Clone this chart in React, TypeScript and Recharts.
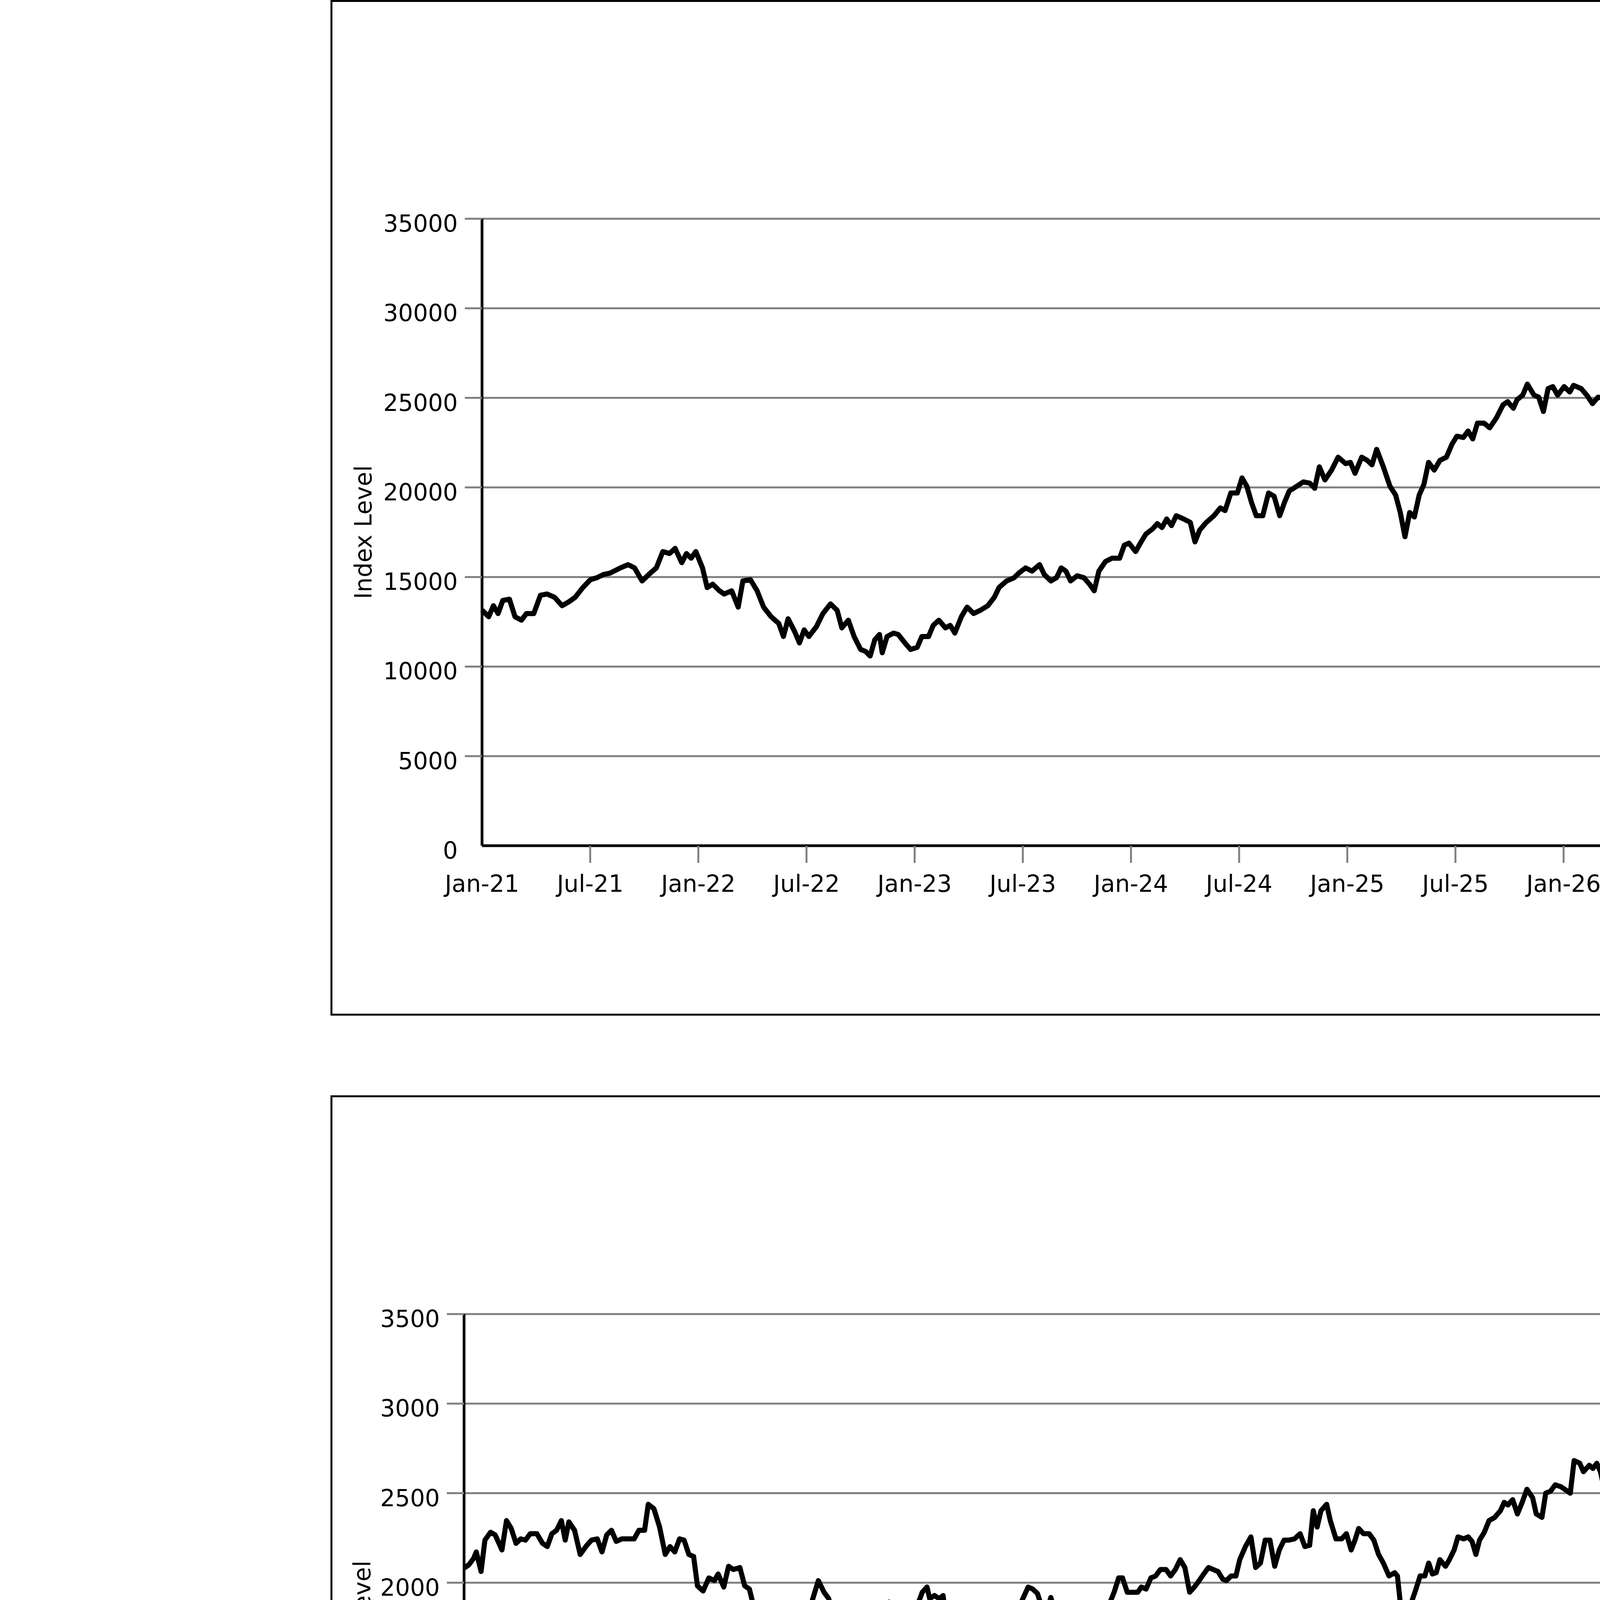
import { CartesianGrid, Line, LineChart, XAxis, YAxis } from "recharts"

// months since Jan-2021 and index level
const monthsA = [
  0, 0.37, 0.63, 0.89, 1.15, 1.52, 1.83, 2.19, 2.46, 2.87, 3.24, 3.61, 4.02, 4.44, 4.81, 5.17, 5.59, 6.01,
  6.37, 6.74, 7.11, 7.68, 8.1, 8.46, 8.88, 9.25, 9.67, 10.03, 10.4, 10.71, 11.08, 11.34, 11.6, 11.86, 12.23,
  12.49, 12.8, 13.17, 13.43, 13.85, 14.21, 14.47, 14.89, 15.26, 15.62, 16.04, 16.46, 16.72, 16.98, 17.35,
  17.61, 17.87, 18.13, 18.55, 18.91, 19.33, 19.7, 19.96, 20.32, 20.64, 21.0, 21.27, 21.53, 21.79, 22.05,
  22.2, 22.47, 22.83, 23.09, 23.46, 23.77, 24.14, 24.4, 24.77, 25.03, 25.34, 25.71, 25.97, 26.23, 26.59,
  26.91, 27.27, 27.64, 28.06, 28.42, 28.68, 29.1, 29.52, 29.78, 30.15, 30.51, 30.93, 31.19, 31.56, 31.87,
  32.13, 32.39, 32.65, 33.02, 33.39, 33.7, 33.96, 34.22, 34.59, 34.95, 35.37, 35.63, 35.89, 36.26, 36.52,
  36.83, 37.2, 37.46, 37.72, 37.98, 38.25, 38.51, 38.92, 39.29, 39.55, 39.81, 40.18, 40.6, 40.96, 41.22,
  41.54, 41.9, 42.16, 42.43, 42.69, 42.95, 43.31, 43.63, 43.94, 44.25, 44.51, 44.78, 45.19, 45.56, 45.92,
  46.19, 46.45, 46.76, 47.13, 47.49, 47.91, 48.17, 48.43, 48.8, 49.11, 49.37, 49.63, 50.0, 50.37, 50.68,
  50.94, 51.2, 51.46, 51.72, 51.99, 52.25, 52.51, 52.82, 53.14, 53.5, 53.81, 54.08, 54.44, 54.7, 54.96,
  55.22, 55.59, 55.9, 56.27, 56.64, 56.9, 57.21, 57.42, 57.73, 57.99, 58.36, 58.62, 58.88, 59.14, 59.4,
  59.67, 60.03, 60.34, 60.55, 60.97, 61.29, 61.6, 61.91, 62.28, 62.54, 62.8, 63.06, 63.32, 63.58, 64.0,
  64.37, 64.63, 64.89, 65.15, 65.36, 65.68, 65.99, 66.3, 66.61, 66.93, 67.19, 67.5, 67.87,
]
const levelA = [
  13150, 12780, 13400, 12960, 13690, 13760, 12780, 12590, 12960, 12960, 13980, 14050, 13870, 13400, 13610,
  13870, 14410, 14850, 14960, 15140, 15220, 15510, 15690, 15510, 14780, 15140, 15510, 16420, 16310, 16600,
  15800, 16310, 16050, 16420, 15510, 14410, 14600, 14230, 14050, 14230, 13320, 14780, 14850, 14230, 13320,
  12780, 12410, 11680, 12670, 11940, 11320, 12050, 11680, 12230, 12960, 13500, 13140, 12160, 12590, 11680,
  10960, 10850, 10590, 11500, 11790, 10770, 11680, 11870, 11790, 11320, 10960, 11070, 11680, 11680, 12300,
  12590, 12160, 12300, 11870, 12780, 13320, 12960, 13140, 13400, 13870, 14410, 14780, 14960, 15220, 15510,
  15330, 15690, 15140, 14780, 14960, 15510, 15330, 14780, 15070, 14960, 14600, 14230, 15330, 15870, 16050,
  16050, 16780, 16890, 16420, 16890, 17400, 17690, 17980, 17760, 18240, 17870, 18420, 18240, 18050, 16960,
  17620, 18050, 18420, 18860, 18710, 19690, 19690, 20530, 20060, 19150, 18420, 18420, 19690, 19510, 18420,
  19150, 19800, 20060, 20310, 20240, 19950, 21150, 20420, 20970, 21690, 21330, 21400, 20790, 21690, 21510,
  21260, 22130, 21150, 20060, 19580, 18600, 17250, 18600, 18350, 19580, 20170, 21400, 20970, 21510, 21690,
  22420, 22860, 22790, 23150, 22710, 23590, 23590, 23330, 23880, 24610, 24790, 24420, 24900, 25150, 25770,
  25150, 25040, 24240, 25520, 25630, 25150, 25630, 25330, 25700, 25520, 25150, 24680, 25040, 24970, 24240,
  23590, 23150, 24240, 26610, 27520, 29270, 29160, 29520, 30250, 28970, 30360, 29160, 29700, 28250, 28320,
  29880, 30070, 29270,
]

// months since Jan-2021 and index level
const monthsB = [
  0, 0.26, 0.52, 0.67, 0.93, 1.14, 1.45, 1.7, 2.07, 2.32, 2.58, 2.84, 3.1, 3.36, 3.62, 3.98, 4.29, 4.55,
  4.8, 5.06, 5.32, 5.53, 5.73, 6.04, 6.35, 6.71, 6.97, 7.28, 7.54, 7.8, 8.06, 8.32, 8.63, 8.94, 9.3, 9.56,
  9.87, 10.07, 10.38, 10.69, 11.0, 11.26, 11.52, 11.78, 12.03, 12.29, 12.55, 12.76, 13.07, 13.38, 13.69,
  13.89, 14.2, 14.46, 14.72, 15.08, 15.34, 15.6, 15.86, 16.11, 16.37, 16.63, 16.89, 17.15, 17.41, 17.61,
  17.82, 18.13, 18.44, 18.75, 19.01, 19.37, 19.68, 19.94, 20.14, 20.4, 20.66, 20.92, 21.18, 21.43, 21.69,
  21.95, 22.21, 22.47, 22.73, 22.98, 23.24, 23.4, 23.66, 24.02, 24.28, 24.53, 24.79, 25.05, 25.31, 25.46,
  25.72, 25.98, 26.19, 26.39, 26.6, 26.91, 27.12, 27.37, 27.63, 27.89, 28.15, 28.41, 28.67, 28.92, 29.18,
  29.34, 29.6, 29.8, 30.06, 30.32, 30.58, 30.84, 31.09, 31.35, 31.61, 31.87, 32.08, 32.28, 32.54, 32.8,
  33.11, 33.32, 33.57, 33.83, 34.09, 34.24, 34.45, 34.66, 34.97, 35.28, 35.54, 35.79, 36.0, 36.26, 36.52,
  36.83, 37.03, 37.29, 37.55, 37.81, 38.07, 38.38, 38.63, 38.89, 39.15, 39.41, 39.67, 39.93, 40.19, 40.44,
  40.7, 40.96, 41.22, 41.48, 41.68, 41.94, 42.2, 42.41, 42.72, 43.02, 43.28, 43.54, 43.8, 44.06, 44.32,
  44.57, 44.83, 45.09, 45.4, 45.71, 45.97, 46.23, 46.43, 46.64, 46.85, 47.16, 47.36, 47.67, 47.98, 48.24,
  48.5, 48.71, 48.91, 49.17, 49.48, 49.74, 50.0, 50.26, 50.57, 50.88, 51.03, 51.24, 51.5, 51.8, 52.01,
  52.27, 52.53, 52.74, 52.94, 53.15, 53.35, 53.66, 53.87, 54.13, 54.34, 54.65, 54.9, 55.11, 55.32, 55.52,
  55.78, 56.04, 56.35, 56.66, 56.87, 57.07, 57.33, 57.59, 57.85, 58.11, 58.42, 58.62, 58.93, 59.14, 59.4,
  59.66, 59.97, 60.17, 60.48, 60.69, 61.0, 61.2, 61.52, 61.72, 61.93, 62.13, 62.34, 62.55, 62.76, 63.07,
  63.38, 63.58, 63.79, 64.1, 64.36, 64.61, 64.87, 65.13, 65.34, 65.54, 65.75, 66.01, 66.27, 66.52, 66.78,
  66.99, 67.25, 67.4, 67.71, 67.92, 68.0,
]
const levelB = [
  2082, 2100, 2136, 2172, 2063, 2238, 2282, 2267, 2183, 2347, 2303, 2220, 2245, 2238, 2274, 2274, 2220,
  2202, 2274, 2293, 2347, 2238, 2340, 2293, 2158, 2209, 2238, 2245, 2172, 2267, 2293, 2231, 2245, 2245,
  2245, 2293, 2293, 2438, 2413, 2311, 2158, 2202, 2172, 2245, 2238, 2158, 2147, 1983, 1954, 2027, 2012,
  2049, 1976, 2092, 2074, 2085, 1983, 1965, 1856, 1838, 1783, 1765, 1874, 1874, 1801, 1663, 1765, 1736,
  1765, 1801, 1892, 2012, 1947, 1911, 1809, 1874, 1674, 1663, 1699, 1685, 1783, 1845, 1809, 1874, 1838,
  1874, 1892, 1794, 1765, 1765, 1820, 1874, 1874, 1947, 1976, 1911, 1929, 1911, 1929, 1747, 1729, 1729,
  1794, 1747, 1783, 1794, 1758, 1765, 1729, 1758, 1765, 1838, 1867, 1809, 1874, 1856, 1918, 1976, 1965,
  1940, 1856, 1845, 1918, 1845, 1856, 1772, 1758, 1729, 1692, 1663, 1627, 1765, 1699, 1783, 1830, 1881,
  1947, 2027, 2027, 1947, 1947, 1947, 1976, 1965, 2027, 2038, 2074, 2074, 2038, 2074, 2129, 2085, 1947,
  1976, 2012, 2049, 2085, 2074, 2063, 2020, 2012, 2038, 2038, 2129, 2202, 2256, 2085, 2110, 2238, 2238,
  2092, 2183, 2238, 2238, 2245, 2274, 2202, 2209, 2402, 2311, 2402, 2438, 2347, 2245, 2245, 2274, 2183,
  2238, 2303, 2274, 2274, 2238, 2158, 2110, 2038, 2056, 2038, 1838, 1856, 1892, 1954, 2038, 2038, 2110,
  2049, 2056, 2129, 2092, 2129, 2183, 2256, 2245, 2256, 2231, 2158, 2238, 2282, 2347, 2365, 2402, 2449,
  2434, 2464, 2384, 2449, 2522, 2475, 2384, 2365, 2500, 2511, 2547, 2536, 2522, 2500, 2682, 2667, 2620,
  2656, 2638, 2667, 2620, 2522, 2500, 2449, 2464, 2558, 2631, 2784, 2791, 2857, 2802, 2864, 2911, 2838,
  2929, 2966, 3009, 2995, 2973, 2958, 2929, 2922, 3038, 3075, 3046, 3009,
]

const ticksA = [0, 5000, 10000, 15000, 20000, 25000, 30000, 35000]
const ticksB = [0, 500, 1000, 1500, 2000, 2500, 3000, 3500]
const monthTicks = [0, 6, 12, 18, 24, 30, 36, 42, 48, 54, 60, 66]

const rowsA = monthsA.map((m, i) => ({ m, v: levelA[i] }))
const rowsB = monthsB.map((m, i) => ({ m, v: levelB[i] }))

const font = "DejaVu Sans"
const tickGray = "#808080"
const TICK = 44

function monthLabel(m: number) {
  const yr = 21 + Math.floor(m / 12)
  return (m % 12 === 0 ? "Jan-" : "Jul-") + yr
}

// x tick: gray mark below the axis (none at the origin) plus the label
function MonthTick({ x, y, payload }: any) {
  const v = payload.value
  const top = y - 31 - TICK
  return (
    <g>
      {v !== 0 && <line x1={x} x2={x} y1={top} y2={top + TICK} stroke={tickGray} strokeWidth={5} />}
      <text x={x} y={y + 43} textAnchor="middle" fontSize={60} fontFamily={font} fill="#000">
        {monthLabel(v)}
      </text>
    </g>
  )
}

// y tick: gray mark left of the axis (none at zero) plus the label
function LevelTick({ x, y, payload }: any) {
  const v = payload.value
  const left = x + 18
  return (
    <g>
      {v !== 0 && <line x1={left} x2={left + TICK} y1={y} y2={y} stroke={tickGray} strokeWidth={5} />}
      <text x={x} y={y + 33} textAnchor="end" fontSize={60} fontFamily={font} fill="#000">
        {v}
      </text>
    </g>
  )
}

function IndexChart({ rows, ticks, axisX, labelX }: { rows: any[]; ticks: number[]; axisX: number; labelX: number }) {
  return (
    <LineChart
      width={5400}
      height={2600}
      data={rows}
      margin={{ top: 558, right: 5400 - 4372, bottom: 287, left: 0 }}
    >
      <CartesianGrid vertical={false} stroke={tickGray} strokeWidth={5} />
      <XAxis
        dataKey="m"
        type="number"
        domain={[0, 68]}
        ticks={monthTicks}
        interval={0}
        height={150}
        tickSize={TICK}
        tickMargin={31}
        tick={<MonthTick />}
        tickLine={false}
        axisLine={{ stroke: "#000", strokeWidth: 7 }}
      />
      <YAxis
        type="number"
        domain={[0, ticks[ticks.length - 1]]}
        ticks={ticks}
        interval={0}
        width={axisX}
        tickSize={TICK}
        tickMargin={18}
        tick={<LevelTick />}
        tickLine={false}
        axisLine={{ stroke: "#000", strokeWidth: 7 }}
        label={{
          value: "Index Level",
          angle: -90,
          position: "insideLeft",
          offset: labelX,
          textAnchor: "middle",
          style: { fontSize: 60, fill: "#000", fontFamily: font },
        }}
      />
      <Line
        type="linear"
        dataKey="v"
        stroke="#000"
        strokeWidth={13}
        strokeLinejoin="round"
        dot={false}
        isAnimationActive={false}
      />
    </LineChart>
  )
}

const boxStyle = {
  position: "absolute" as const,
  left: 846,
  width: 3768,
  height: 2600,
  border: "5px solid #000",
  boxSizing: "border-box" as const,
}

export default function App() {
  return (
    <div style={{ position: "absolute", left: 0, top: 0, width: 5400, height: 7576, background: "#fff", overflow: "hidden" }}>
      <div style={{ ...boxStyle, top: 0 }} />
      <div style={{ position: "absolute", left: 0, top: 2 }}>
        <IndexChart rows={rowsA} ticks={ticksA} axisX={1234} labelX={930} />
      </div>
      <div style={{ ...boxStyle, top: 2804 }} />
      <div style={{ position: "absolute", left: 0, top: 2806 }}>
        <IndexChart rows={rowsB} ticks={ticksB} axisX={1188} labelX={927} />
      </div>
      <div style={{ position: "absolute", left: 0, top: 7133, width: 5400, height: 9, background: "#000" }} />
      <svg style={{ position: "absolute", left: 0, top: 7200 }} width={5400} height={376}>
        <text
          x={4022}
          y={255}
          textLength={1278}
          lengthAdjust="spacingAndGlyphs"
          fontFamily="Liberation Serif"
          fontSize={300}
          fill="#5a2c10"
        >
          J.P.Morgan
        </text>
      </svg>
    </div>
  )
}
